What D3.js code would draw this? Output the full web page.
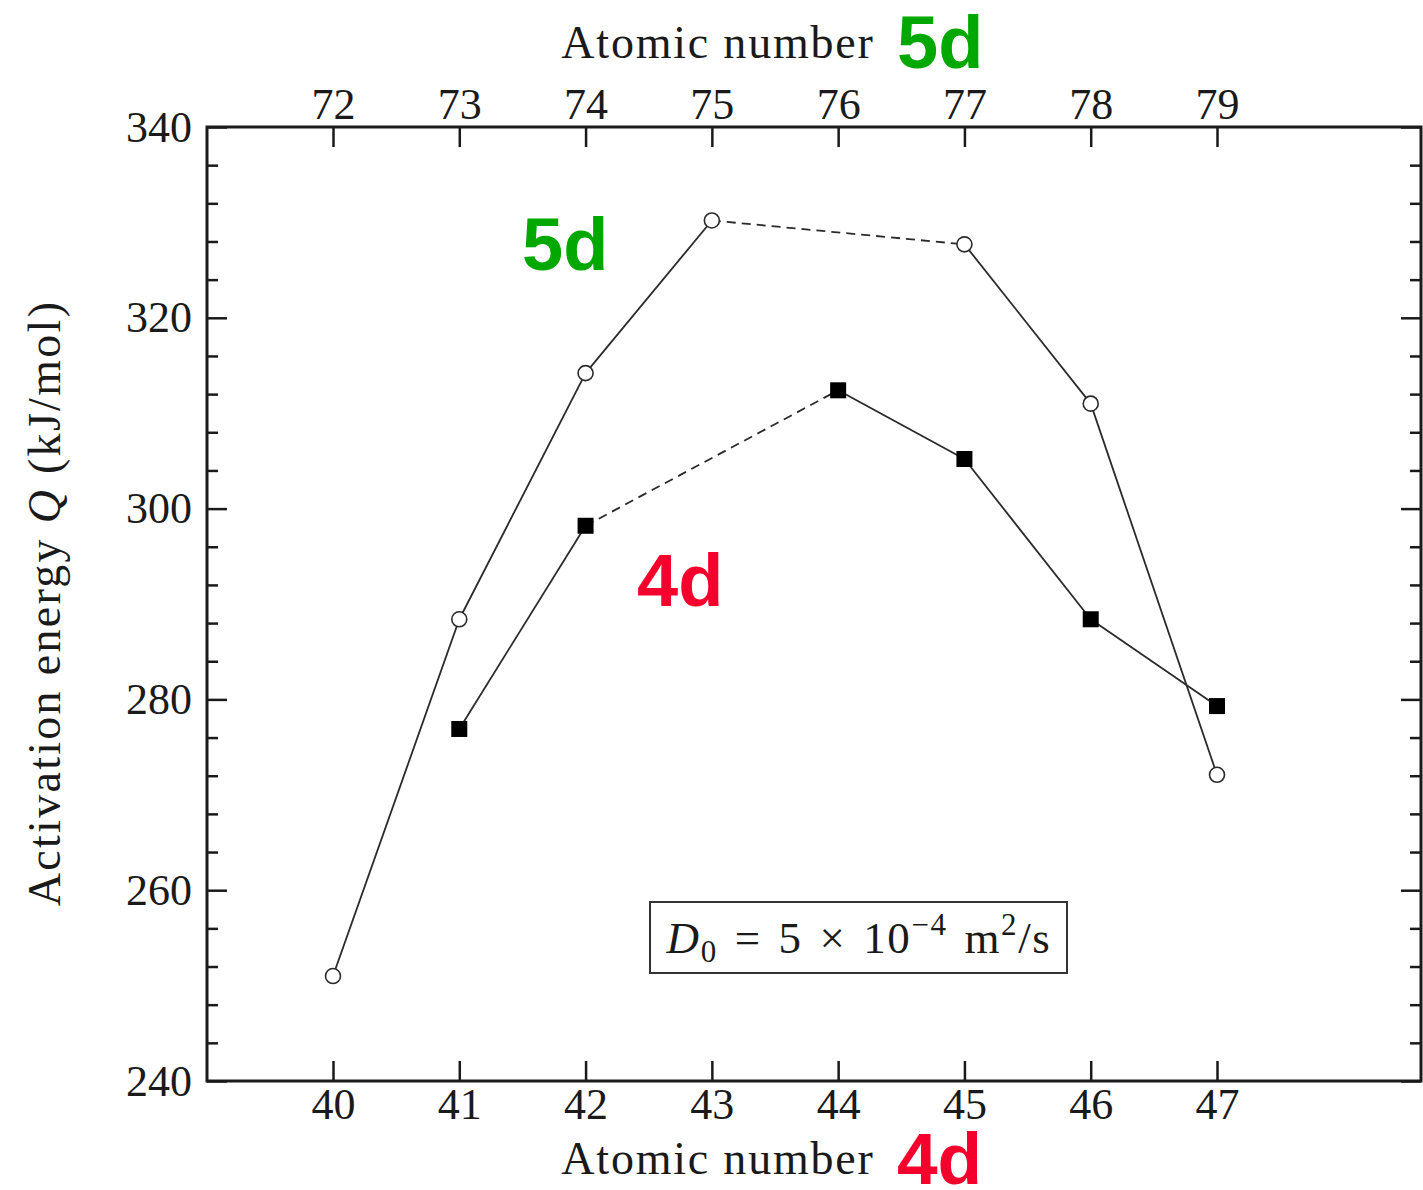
<!doctype html>
<html>
<head>
<meta charset="utf-8">
<style>
    body { margin: 0; background: #fff; }
    svg text { font-family: "Liberation Serif", "Times New Roman", serif; fill: #1a1a1a; }
    .tag { font-family: "Liberation Sans", Arial, sans-serif !important; font-weight: bold; }
</style>
<script src="https://d3js.org/d3.v7.min.js"></script>
</head>
<body>
<svg width="1423" height="1190"></svg>
<script>

// values
var z4d = [40, 41, 42, 43, 44, 45, 46, 47];
var z5d = [72, 73, 74, 75, 76, 77, 78, 79];
var q5d = [251.0, 288.4, 314.2, 330.2, null, 327.7, 311.0, 272.1];
var q4d = [null, 276.9, 298.2, null, 312.4, 305.2, 288.4, 279.3];
var yTicks = [240, 260, 280, 300, 320, 340];

var svg = d3.select("svg");

var pLeft = 207, pRight = 1421, pTop = 127, pBottom = 1081;

var x = d3.scaleLinear().domain([40, 47]).range([333, 1217]);
var xTop = d3.scaleLinear().domain([72, 79]).range([333, 1217]);
var y = d3.scaleLinear().domain([240, 340]).range([pBottom, pTop]);

var minor = d3.range(240, 341, 4).filter(function(v) { return v % 20 != 0; });

function styleAxis(g) {
    g.select(".domain").remove();
    g.selectAll("line").attr("stroke", "#1a1a1a").attr("stroke-width", 2.5);
    g.selectAll("text").attr("font-size", 44).attr("fill", "#1a1a1a")
        .style("font-family", "'Liberation Serif', serif");
}

// bottom axis (4d), ticks point inwards
svg.append("g")
    .attr("transform", "translate(0," + pBottom + ")")
    .call(d3.axisBottom(x).tickValues(z4d).tickFormat(d3.format("d"))
        .tickSizeInner(-20).tickPadding(7).tickSizeOuter(0))
    .call(styleAxis);

// top axis (5d)
svg.append("g")
    .attr("transform", "translate(0," + pTop + ")")
    .call(d3.axisTop(xTop).tickValues(z5d).tickFormat(d3.format("d"))
        .tickSizeInner(-20).tickPadding(8).tickSizeOuter(0))
    .call(styleAxis);

// left axis
svg.append("g")
    .attr("transform", "translate(" + pLeft + ",0)")
    .call(d3.axisLeft(y).tickValues(yTicks).tickSizeInner(-20).tickPadding(15).tickSizeOuter(0))
    .call(styleAxis);
svg.append("g")
    .attr("transform", "translate(" + pLeft + ",0)")
    .call(d3.axisLeft(y).tickValues(minor).tickSizeInner(-11).tickFormat("").tickSizeOuter(0))
    .call(styleAxis);

// right axis
svg.append("g")
    .attr("transform", "translate(" + pRight + ",0)")
    .call(d3.axisRight(y).tickValues(yTicks).tickSizeInner(-20).tickFormat("").tickSizeOuter(0))
    .call(styleAxis);
svg.append("g")
    .attr("transform", "translate(" + pRight + ",0)")
    .call(d3.axisRight(y).tickValues(minor).tickSizeInner(-11).tickFormat("").tickSizeOuter(0))
    .call(styleAxis);

// frame
svg.append("rect")
    .attr("x", pLeft).attr("y", pTop)
    .attr("width", pRight - pLeft).attr("height", pBottom - pTop)
    .attr("fill", "none").attr("stroke", "#1a1a1a").attr("stroke-width", 3);

// series
function drawSeries(vals, marker) {
    var pts = [];
    vals.forEach(function(v, i) { if (v != null) pts.push({i: i, x: z4d[i], q: v}); });

    var line = d3.line().x(function(d) { return x(d.x); }).y(function(d) { return y(d.q); });

    for (var k = 1; k < pts.length; k++) {
        var a = pts[k - 1], b = pts[k];
        svg.append("path")
            .attr("d", line([a, b]))
            .attr("fill", "none")
            .attr("stroke", "#2a2a2a")
            .attr("stroke-width", 1.8)
            .attr("stroke-dasharray", b.i - a.i > 1 ? "9,6" : null);
    }

    if (marker == "circle") {
        svg.selectAll(null).data(pts).enter().append("circle")
            .attr("cx", function(d) { return x(d.x); })
            .attr("cy", function(d) { return y(d.q); })
            .attr("r", 7.5)
            .attr("fill", "#fff")
            .attr("stroke", "#2a2a2a")
            .attr("stroke-width", 1.6);
    } else {
        svg.selectAll(null).data(pts).enter().append("rect")
            .attr("x", function(d) { return x(d.x) - 8; })
            .attr("y", function(d) { return y(d.q) - 8; })
            .attr("width", 16).attr("height", 16)
            .attr("fill", "#000");
    }
}

drawSeries(q5d, "circle");
drawSeries(q4d, "square");

// axis titles
svg.append("text")
    .attr("x", 718).attr("y", 58)
    .attr("text-anchor", "middle").attr("font-size", 46).attr("letter-spacing", 1.8)
    .text("Atomic number");
svg.append("text")
    .attr("x", 718).attr("y", 1174)
    .attr("text-anchor", "middle").attr("font-size", 46).attr("letter-spacing", 1.8)
    .text("Atomic number");

var yl = svg.append("text")
    .attr("transform", "translate(60,603) rotate(-90)")
    .attr("text-anchor", "middle").attr("font-size", 46).attr("letter-spacing", 2.3);
yl.append("tspan").text("Activation energy ");
yl.append("tspan").attr("font-style", "italic").text("Q");
yl.append("tspan").text(" (kJ/mol)");

// coloured labels
svg.append("text").attr("class", "tag").attr("x", 897).attr("y", 68)
    .attr("font-size", 74).style("fill", "#00a800").text("5d");
svg.append("text").attr("class", "tag").attr("x", 897).attr("y", 1184)
    .attr("font-size", 73).style("fill", "#f5002d").text("4d");
svg.append("text").attr("class", "tag").attr("x", 522).attr("y", 270)
    .attr("font-size", 74).style("fill", "#00a800").text("5d");
svg.append("text").attr("class", "tag").attr("x", 637).attr("y", 606)
    .attr("font-size", 74).style("fill", "#f5002d").text("4d");

// D0 box
svg.append("rect")
    .attr("x", 650).attr("y", 902).attr("width", 417).attr("height", 71)
    .attr("fill", "#fff").attr("stroke", "#333").attr("stroke-width", 2);
var eq = svg.append("text").attr("x", 859).attr("y", 953)
    .attr("text-anchor", "middle").attr("font-size", 45)
    .attr("letter-spacing", 1.6).attr("word-spacing", 4);
eq.append("tspan").attr("font-style", "italic").text("D");
eq.append("tspan").attr("font-size", 31).attr("dy", 9).text("0");
eq.append("tspan").attr("dy", -9).text(" = 5 × 10");
eq.append("tspan").attr("font-size", 31).attr("dy", -18).text("−4");
eq.append("tspan").attr("dy", 18).text(" m");
eq.append("tspan").attr("font-size", 31).attr("dy", -18).text("2");
eq.append("tspan").attr("dy", 18).text("/s");

</script>
</body>
</html>
